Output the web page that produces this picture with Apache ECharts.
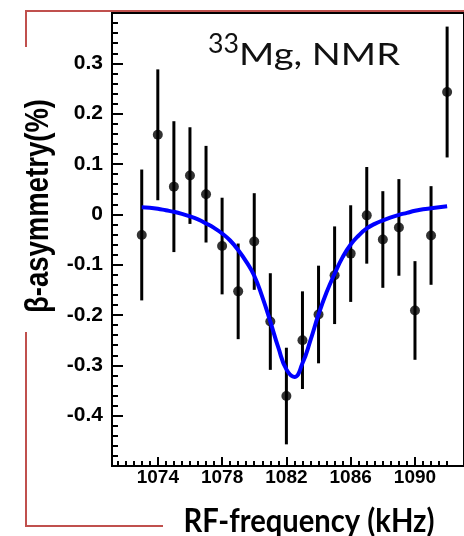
<!DOCTYPE html>
<html>
<head>
<meta charset="utf-8">
<script src="https://cdn.jsdelivr.net/npm/echarts@6/dist/echarts.min.js"></script>
<style>
html, body { margin: 0; padding: 0; background: #fff; }
#chart { width: 464px; height: 536px; }
</style>
</head>
<body>
<div id="chart"></div>
<script>
// measured points (RF frequency in kHz, beta asymmetry in %)
const freq = [1073, 1074, 1075, 1076, 1077, 1078, 1079, 1080, 1081, 1082,
              1083, 1084, 1085, 1086, 1087, 1088, 1089, 1090, 1091, 1092];
const asym = [-0.041, 0.158, 0.055, 0.077, 0.040, -0.063, -0.153, -0.054, -0.213, -0.361,
              -0.250, -0.199, -0.121, -0.078, -0.002, -0.050, -0.026, -0.191, -0.042, 0.243];
const asymErr = [0.130, 0.130, 0.130, 0.096, 0.096, 0.096, 0.095, 0.096, 0.096, 0.096,
                 0.097, 0.097, 0.097, 0.096, 0.096, 0.096, 0.096, 0.098, 0.098, 0.130];

// fitted resonance curve
const fitFreq = [1073, 1073.5, 1074, 1074.5, 1075, 1075.5, 1076, 1076.5, 1077, 1077.5,
                 1078, 1078.5, 1079, 1079.5, 1080, 1080.5, 1081, 1081.5, 1082, 1082.5,
                 1083, 1083.5, 1084, 1084.5, 1085, 1085.5, 1086, 1086.5, 1087, 1087.5,
                 1088, 1088.5, 1089, 1089.5, 1090, 1090.5, 1091, 1091.5, 1092];
const fitAsym = [0.014, 0.013, 0.011, 0.008, 0.005, 0.001, -0.004, -0.010, -0.018, -0.027,
                 -0.038, -0.052, -0.071, -0.094, -0.122, -0.164, -0.213, -0.265, -0.308, -0.323,
                 -0.296, -0.250, -0.199, -0.155, -0.118, -0.085, -0.060, -0.042, -0.028, -0.019,
                 -0.012, -0.006, -0.001, 0.003, 0.007, 0.010, 0.012, 0.014, 0.016];

const xTickLabels = [1074, 1078, 1082, 1086, 1090];
const yTickLabels = [0.3, 0.2, 0.1, 0, -0.1, -0.2, -0.3, -0.4];

const X_MIN = 1071.15, X_MAX = 1093.05;
const Y_MIN = -0.5, Y_MAX = 0.4;

// minor ticks: every 0.5 kHz on x, every 0.02 on y
const xMinorTicks = [];
for (let v = 1071.5; v <= 1092; v += 0.5) {
    if (xTickLabels.indexOf(v) < 0) xMinorTicks.push(v);
}
const yMinorTicks = [];
for (let k = -24; k <= 19; k++) {
    if (k % 5 !== 0) yMinorTicks.push(Math.round(k * 2) / 100);
}

const measureCtx = document.createElement('canvas').getContext('2d');
function fitScale (text, font, targetWidth) {
    measureCtx.font = font;
    return targetWidth / measureCtx.measureText(text).width;
}

const RED = '#C0504D';
const yTitleFont = 'bold 28px "Liberation Sans"';
const xTitleFont = 'bold 32px Lato';
const noteFont = '30px Lato';
const supFont = '26px Lato';

// helper: an extra axis laid over the main one that only adds the short ticks
// (its empty labels are kept tiny so they never count as overlapping)
function tickOnlyAxis (min, max, position, values, length) {
    return {
        type: 'value', min, max, position,
        axisLine: { show: true, onZero: false, lineStyle: { color: '#000', width: 2 } },
        axisTick: { show: true, inside: true, length, lineStyle: { color: '#000', width: 2 }, customValues: values },
        axisLabel: {
            show: true, customValues: values, formatter: () => '',
            fontSize: 1, lineHeight: 1, hideOverlap: false, interval: 0
        },
        splitLine: { show: false }
    };
}

const chart = echarts.init(document.getElementById('chart'), null, { renderer: 'canvas' });

chart.setOption({
    animation: false,
    backgroundColor: '#fff',
    grid: {
        left: 112, top: 13, width: 355, height: 453,
        show: true, borderColor: '#000', borderWidth: 2, backgroundColor: 'transparent'
    },
    xAxis: [
        {
            type: 'value', min: X_MIN, max: X_MAX, position: 'bottom',
            axisLine: { onZero: false, lineStyle: { color: '#000', width: 2 } },
            axisTick: { show: true, inside: true, length: 9, lineStyle: { color: '#000', width: 2 }, customValues: xTickLabels },
            axisLabel: {
                customValues: xTickLabels, margin: 2, color: '#000',
                fontFamily: '"Liberation Sans"', fontWeight: 'bold', fontSize: 19,
                formatter: v => String(v)
            },
            splitLine: { show: false }
        },
        tickOnlyAxis(X_MIN, X_MAX, 'bottom', xMinorTicks, 5)
    ],
    yAxis: [
        {
            type: 'value', min: Y_MIN, max: Y_MAX, interval: 0.1, position: 'left',
            axisLine: { onZero: false, lineStyle: { color: '#000', width: 2 } },
            axisTick: { show: true, inside: true, length: 11, lineStyle: { color: '#000', width: 2 } },
            axisLabel: {
                margin: 9, color: '#000',
                fontFamily: '"Liberation Sans"', fontWeight: 'bold', fontSize: 21,
                formatter: v => {
                    const r = Math.round(v * 10) / 10;
                    return yTickLabels.indexOf(r) >= 0 ? String(r) : '';
                }
            },
            splitLine: { show: false }
        },
        tickOnlyAxis(Y_MIN, Y_MAX, 'left', yMinorTicks, 6)
    ],
    series: [
        {
            type: 'custom',
            xAxisIndex: 0,
            yAxisIndex: 0,
            data: freq.map((f, i) => [f, asym[i] - asymErr[i], asym[i] + asymErr[i]]),
            encode: { x: 0, y: [1, 2] },
            renderItem (params, api) {
                const lo = api.coord([api.value(0), api.value(1)]);
                const hi = api.coord([api.value(0), api.value(2)]);
                return {
                    type: 'line',
                    shape: { x1: lo[0], y1: lo[1], x2: hi[0], y2: hi[1] },
                    style: { stroke: '#000', lineWidth: 3 }
                };
            },
            z: 2
        },
        {
            type: 'scatter',
            xAxisIndex: 0,
            yAxisIndex: 0,
            data: freq.map((f, i) => [f, asym[i]]),
            symbolSize: 10,
            itemStyle: { color: '#000' },
            z: 3
        },
        {
            type: 'line',
            xAxisIndex: 0,
            yAxisIndex: 0,
            data: fitFreq.map((f, i) => [f, fitAsym[i]]),
            smooth: 0.5,
            showSymbol: false,
            lineStyle: { color: '#0000FF', width: 4 },
            z: 4
        }
    ],
    graphic: [
        // slide frame pieces
        { type: 'polyline', shape: { points: [[26, 47], [26, 11], [466, 11]] },
          style: { stroke: RED, lineWidth: 2, fill: null }, z: 0 },
        { type: 'polyline', shape: { points: [[26, 332], [26, 526], [163, 526]] },
          style: { stroke: RED, lineWidth: 2, fill: null }, z: 0 },
        // y axis title
        { type: 'text', x: 39, y: 206, rotation: Math.PI / 2,
          scaleX: fitScale('β-asymmetry(%)', yTitleFont, 214), scaleY: 1.2,
          style: { text: 'β-asymmetry(%)', font: yTitleFont, fill: '#000',
                   align: 'center', verticalAlign: 'middle', textAlign: 'center', textVerticalAlign: 'middle' } },
        // x axis title
        { type: 'text', x: 309, y: 522,
          scaleX: fitScale('RF-frequency (kHz)', xTitleFont, 251),
          style: { text: 'RF-frequency (kHz)', font: xTitleFont, fill: '#000',
                   align: 'center', verticalAlign: 'middle', textAlign: 'center', textVerticalAlign: 'middle' } },
        // annotation
        { type: 'text', x: 208, y: 45,
          scaleX: fitScale('33', supFont, 31),
          style: { text: '33', font: supFont, fill: '#111',
                   align: 'left', verticalAlign: 'middle', textAlign: 'left', textVerticalAlign: 'middle' } },
        { type: 'text', x: 239, y: 55,
          scaleX: fitScale('Mg, NMR', noteFont, 161),
          style: { text: 'Mg, NMR', font: noteFont, fill: '#111',
                   align: 'left', verticalAlign: 'middle', textAlign: 'left', textVerticalAlign: 'middle' } }
    ]
});
</script>
</body>
</html>
